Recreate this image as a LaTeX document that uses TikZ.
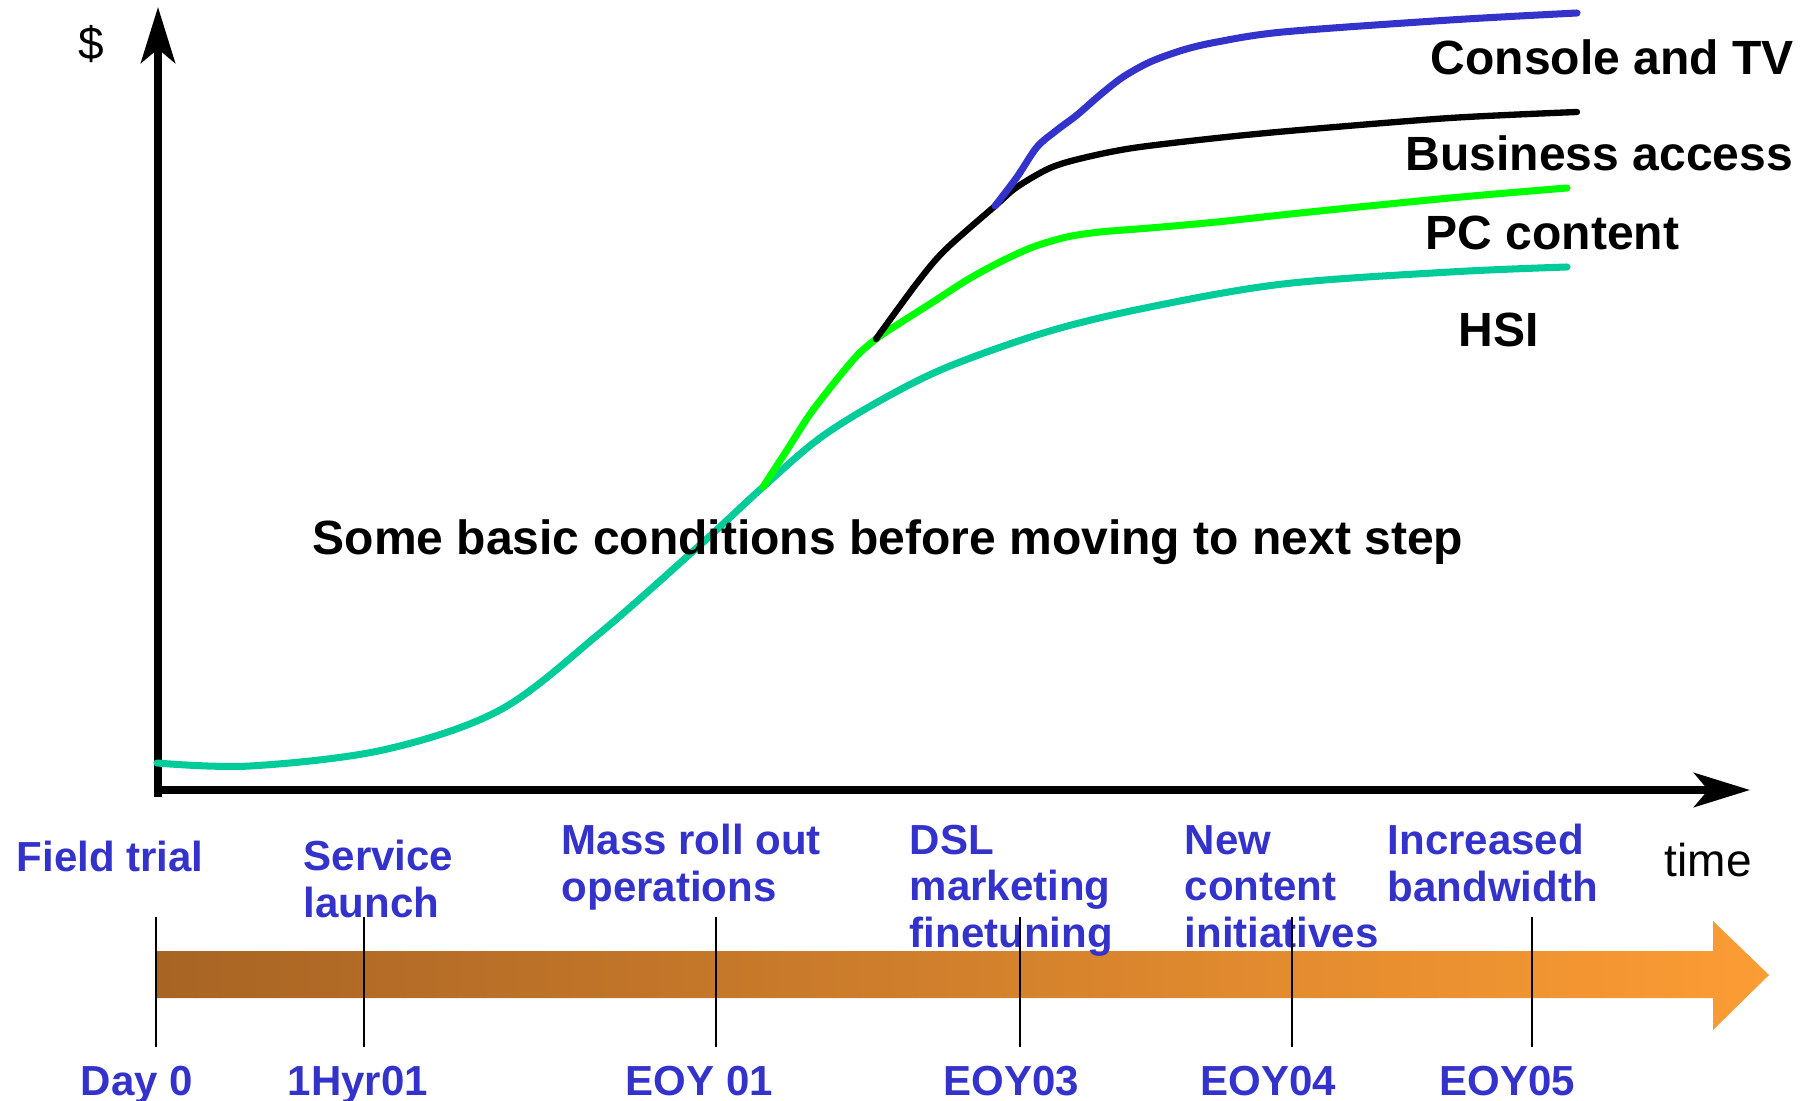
\documentclass[tikz,border=0pt]{standalone}
\usepackage{fontspec}
\setmainfont{Liberation Sans}
\usetikzlibrary{arrows.meta}
\definecolor{mblue}{RGB}{51,51,204}
\definecolor{mteal}{RGB}{0,204,153}
\definecolor{mgreen}{RGB}{0,255,0}
\definecolor{barL}{RGB}{168,100,36}
\definecolor{barR}{RGB}{252,156,52}
\tikzset{
  axisline/.style={line width=2.3pt, -{Stealth[length=15.9pt,width=9.7pt,inset=4pt]}},
  curve/.style={line width=2pt, line cap=round, line join=round},
  axlabel/.style={anchor=base west, inner sep=0pt, font=\fontsize{13.09pt}{15pt}\selectfont},
  serlabel/.style={anchor=base west, inner sep=0pt, font=\bfseries\fontsize{13.66pt}{16pt}\selectfont},
  mile/.style={anchor=base west, inner sep=0pt, align=left, text=mblue, font=\bfseries\fontsize{11.95pt}{13.09pt}\selectfont},
  datelabel/.style={anchor=base west, inner sep=0pt, text=mblue, font=\bfseries\fontsize{11.95pt}{13.09pt}\selectfont},
  tickline/.style={line width=0.45pt, black},
}
\begin{document}
\begin{tikzpicture}[x=0.01cm,y=-0.01cm]
\useasboundingbox (0,0) rectangle (1804,1101);

% timeline bar
\path[left color=barL, right color=barR]
  (155,951) -- (1713,951) -- (1713,921) -- (1769,975) -- (1713,1030) -- (1713,998) -- (155,998) -- cycle;

% axes
\coordinate (ybot) at (158,797);
\coordinate (ytip) at (158,7);
\coordinate (origin) at (158,790);
\coordinate (xtip) at (1750,790);
\draw[axisline] (ybot) -- (ytip);
\draw[axisline] (origin) -- (xtip);

\node[axlabel] (dollar) at (78,60) {\$};
\node[axlabel] (time) at (1664,876) {time};

% branch points
\coordinate (b1) at (763,487);
\coordinate (b2) at (876,339);
\coordinate (b3) at (995,206);

% curves
\draw[curve, mteal] plot[smooth, tension=0.55] coordinates {
  (157,763) (250,766) (383,750) (500,710) (600,633) (700,545) (b1)
  (820,438) (883,399) (950,366) (1050,331) (1150,307) (1283,284) (1450,272) (1567,267)};
\draw[curve, mgreen] plot[smooth, tension=0.5] coordinates {
  (b1) (787,450) (813,410) (853,360) (b2) (900,323) (933,302) (967,280) (1000,262)
  (1033,247) (1067,237) (1100,232) (1150,228) (1217,222) (1300,213) (1450,198) (1567,188)};
\draw[curve, black, line width=1.8pt] plot[smooth, tension=0.5] coordinates {
  (b2) (917,283) (945,250) (b3) (1017,187) (1050,168) (1083,158) (1133,148)
  (1217,138) (1300,130) (1450,118) (1577,112)};
\draw[curve, mblue] plot[smooth, tension=0.5] coordinates {
  (b3) (1017,177) (1037,147) (1057,130) (1077,115) (1100,95) (1123,77)
  (1150,62) (1183,50) (1217,42) (1283,32) (1450,20) (1577,13)};

% series labels
\node[serlabel] (lconsole) at (1430,75) {Console and TV};
\node[serlabel] (lbusiness) at (1405,171) {Business access};
\node[serlabel] (lpc) at (1425,250) {PC content};
\node[serlabel] (lhsi) at (1458,347) {HSI};
\node[serlabel] (cond) at (312,555) {Some basic conditions before moving to next step};

% milestones (anchor = baseline of last line)
\node[mile] (m0) at (16,871) {Field trial};
\node[mile] (m1) at (303,917) {Service\\launch};
\node[mile] (m2) at (561,901) {Mass roll out\\operations};
\node[mile] (m3) at (909,947) {DSL\\marketing\\finetuning};
\node[mile] (m4) at (1184,947) {New\\content\\initiatives};
\node[mile] (m5) at (1387,901) {Increased\\bandwidth};

% dates
\node[datelabel] (d0) at (80,1095) {Day 0};
\node[datelabel] (d1) at (287,1095) {1Hyr01};
\node[datelabel] (d2) at (625,1095) {EOY 01};
\node[datelabel] (d3) at (943,1095) {EOY03};
\node[datelabel] (d4) at (1200,1095) {EOY04};
\node[datelabel] (d5) at (1439,1095) {EOY05};

% ticks
\foreach \n/\x in {0/156,1/364,2/716,3/1020,4/1292,5/1532}{
  \coordinate (tt\n) at (\x,917);
  \coordinate (tb\n) at (\x,1047);
  \draw[tickline] (tt\n) -- (tb\n);
}
\end{tikzpicture}
\end{document}
